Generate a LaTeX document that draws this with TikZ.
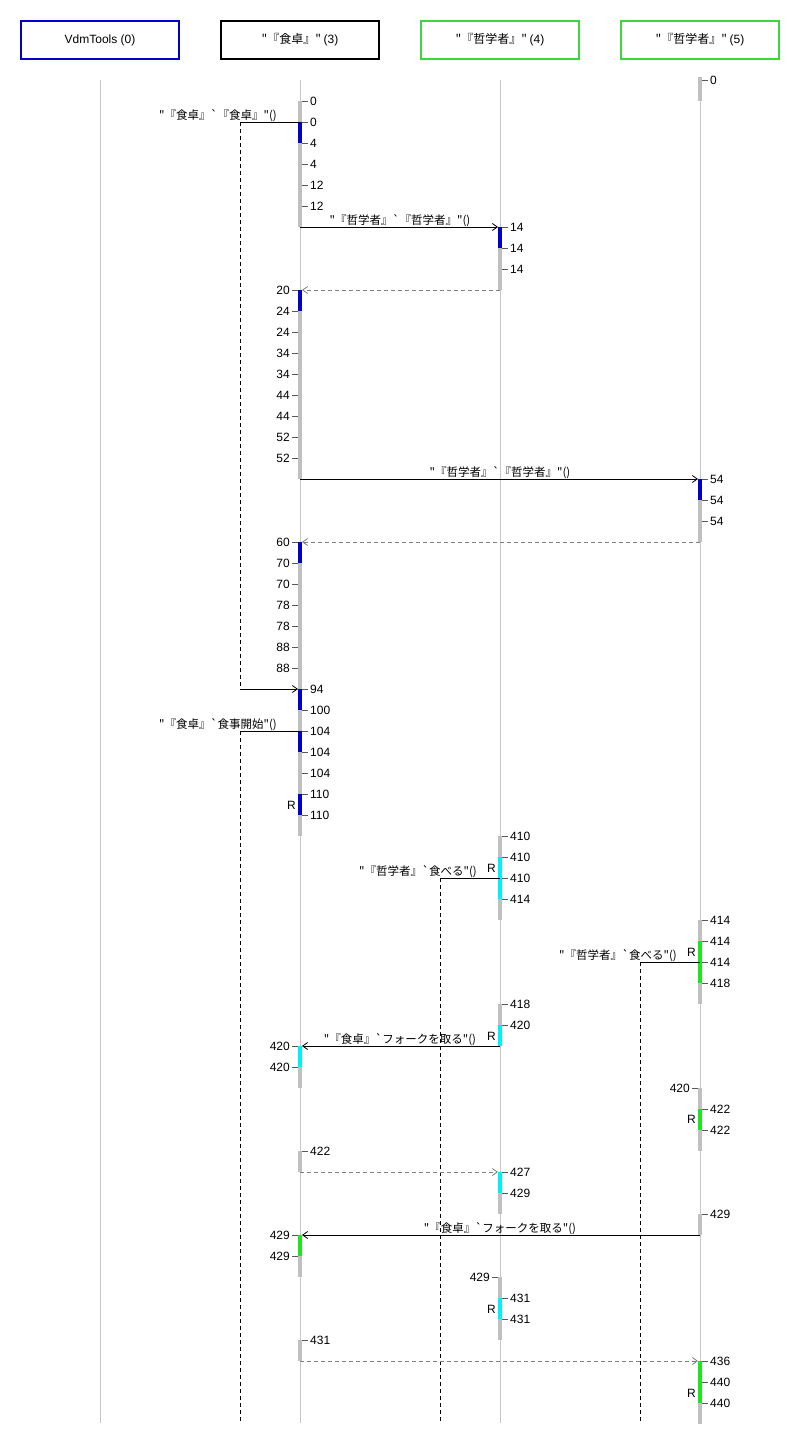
\documentclass[tikz,border=0pt]{standalone}
\usepackage{fontspec}
\setmainfont{Liberation Sans}
\newfontfamily\jp{Noto Sans CJK JP}[Ligatures=TeXOff]
\usetikzlibrary{arrows.meta}
\definecolor{vblue}{RGB}{0,0,200}
\definecolor{hgreen}{RGB}{60,215,60}
\definecolor{vgreen}{RGB}{30,230,30}
\definecolor{vcyan}{RGB}{0,240,250}
\definecolor{barg}{RGB}{192,192,192}
\definecolor{lifeg}{RGB}{200,200,200}
\definecolor{retg}{RGB}{128,128,128}
\tikzset{
  hdr/.style={draw,line width=2pt,minimum width=158pt,minimum height=38pt,inner sep=0pt,
    font=\fontsize{12}{14}\selectfont},
  lifeline/.style={draw=lifeg,line width=1pt},
  actbar/.style={line width=3.5pt},
  tk/.style={draw=black!65,line width=0.8pt},
  num/.style={inner sep=0pt,font=\fontsize{12}{14}\selectfont},
  rlab/.style={inner sep=0pt,anchor=east,font=\fontsize{12}{14}\selectfont},
  msglab/.style={inner sep=0pt,anchor=base,font=\jp\fontsize{11.5}{13}\selectfont},
  msg/.style={draw=black,line width=0.8pt},
  msgarrow/.style={msg,-{Straight Barb[length=5pt,width=7pt]}},
  retarrow/.style={draw=retg,line width=0.8pt,dash pattern=on 4pt off 3pt,
    -{Straight Barb[length=5pt,width=7pt]}},
  calldash/.style={draw=black,line width=0.8pt,dash pattern=on 4pt off 3pt}
}
\begin{document}
\begin{tikzpicture}[x=1pt,y=-1pt]
\useasboundingbox (0,0) rectangle (800,1443);
\fill[white] (0,0) rectangle (800,1443);

% headers
\node[hdr,draw=vblue] (h0) at (100,40) {VdmTools (0)};
\node[hdr,draw=black] (h3) at (300,40) {{\jp "『食卓』" }(3)};
\node[hdr,draw=hgreen] (h4) at (500,40) {{\jp "『哲学者』" }(4)};
\node[hdr,draw=hgreen] (h5) at (700,40) {{\jp "『哲学者』" }(5)};

% lifelines
\foreach \n/\x in {L0/100,L3/300,L4/500,L5/700}{
  \coordinate (\n top) at (\x,80);
  \coordinate (\n bot) at (\x,1423);
  \draw[lifeline] (\n top) -- (\n bot);
}

% gray activation bars
\foreach \x/\a/\b in {700/77/101, 700/479/542, 700/920/1004, 700/1088/1151, 700/1214/1235, 700/1361/1424,
  300/101/227, 300/290/479, 300/542/836, 300/1046/1088, 300/1151/1172, 300/1235/1277, 300/1340/1361,
  500/227/290, 500/836/920, 500/1004/1046, 500/1172/1214, 500/1277/1340}{
  \draw[actbar,draw=barg] (\x,\a) -- (\x,\b);
}
% coloured activation bars
\foreach \x/\a/\b/\c in {700/479/500/vblue, 700/941/983/vgreen, 700/1109/1130/vgreen, 700/1361/1403/vgreen,
  300/122/143/vblue, 300/290/311/vblue, 300/542/563/vblue, 300/689/710/vblue, 300/731/752/vblue, 300/794/815/vblue,
  300/1046/1067/vcyan, 300/1235/1256/vgreen,
  500/227/248/vblue, 500/857/899/vcyan, 500/1025/1046/vcyan, 500/1172/1193/vcyan, 500/1298/1319/vcyan}{
  \draw[actbar,draw=\c] (\x,\a) -- (\x,\b);
}

% ticks on the right
\foreach \x/\y/\t [count=\i] in {700/80/0,
  300/101/0, 300/122/0, 300/143/4, 300/164/4, 300/185/12, 300/206/12,
  500/227/14, 500/248/14, 500/269/14,
  700/479/54, 700/500/54, 700/521/54,
  300/689/94, 300/710/100, 300/731/104, 300/752/104, 300/773/104, 300/794/110, 300/815/110,
  500/836/410, 500/857/410, 500/878/410, 500/899/414,
  700/920/414, 700/941/414, 700/962/414, 700/983/418,
  500/1004/418, 500/1025/420,
  700/1109/422, 700/1130/422,
  300/1151/422,
  500/1172/427, 500/1193/429,
  700/1214/429,
  500/1298/431, 500/1319/431,
  300/1340/431,
  700/1361/436, 700/1382/440, 700/1403/440}{
  \draw[tk] (\x+2,\y) -- (\x+8,\y);
  \node[num,anchor=west] (tr\i) at (\x+10,\y) {\t};
}
% ticks on the left
\foreach \x/\y/\t [count=\i] in {
  300/290/20, 300/311/24, 300/332/24, 300/353/34, 300/374/34, 300/395/44, 300/416/44, 300/437/52, 300/458/52,
  300/542/60, 300/563/70, 300/584/70, 300/605/78, 300/626/78, 300/647/88, 300/668/88,
  300/1046/420, 300/1067/420,
  700/1088/420,
  300/1235/429, 300/1256/429,
  500/1277/429}{
  \draw[tk] (\x-2,\y) -- (\x-8,\y);
  \node[num,anchor=east] (tl\i) at (\x-10,\y) {\t};
}

% R labels
\foreach \x/\y [count=\i] in {300/805, 500/868, 700/952, 500/1036, 700/1119, 500/1309, 700/1393}{
  \node[rlab] (R\i) at (\x-4,\y) {R};
}

% message end points
\coordinate (m1a) at (240,122); \coordinate (m1b) at (300,122); \coordinate (m1r) at (240,689); \coordinate (m1t) at (298,689);
\coordinate (m2a) at (300,227); \coordinate (m2b) at (498,227);
\coordinate (m3a) at (500,290); \coordinate (m3b) at (302,290);
\coordinate (m4a) at (300,479); \coordinate (m4b) at (698,479);
\coordinate (m5a) at (700,542); \coordinate (m5b) at (302,542);
\coordinate (m6a) at (240,731); \coordinate (m6b) at (300,731); \coordinate (m6e) at (240,1423);
\coordinate (m7a) at (440,878); \coordinate (m7b) at (500,878); \coordinate (m7e) at (440,1423);
\coordinate (m8a) at (640,962); \coordinate (m8b) at (700,962); \coordinate (m8e) at (640,1423);
\coordinate (m9a) at (500,1046); \coordinate (m9b) at (302,1046);
\coordinate (m10a) at (300,1172); \coordinate (m10b) at (498,1172);
\coordinate (m11a) at (700,1235); \coordinate (m11b) at (302,1235);
\coordinate (m12a) at (300,1361); \coordinate (m12b) at (698,1361);

% messages
\draw[msg] (m1a) -- (m1b);
\draw[calldash] (m1a) -- (m1r);
\draw[msgarrow] (m1r) -- (m1t);
\node[msglab] (l1) at (218,119) {"『食卓』`『食卓』"()};

\draw[msgarrow] (m2a) -- (m2b);
\node[msglab] (l2) at (400,224) {"『哲学者』`『哲学者』"()};
\draw[retarrow] (m3a) -- (m3b);

\draw[msgarrow] (m4a) -- (m4b);
\node[msglab] (l4) at (500,476) {"『哲学者』`『哲学者』"()};
\draw[retarrow] (m5a) -- (m5b);

\draw[msg] (m6a) -- (m6b);
\draw[calldash] (m6a) -- (m6e);
\node[msglab] (l6) at (218,728) {"『食卓』`食事開始"()};

\draw[msg] (m7a) -- (m7b);
\draw[calldash] (m7a) -- (m7e);
\node[msglab] (l7) at (418,875) {"『哲学者』`食べる"()};

\draw[msg] (m8a) -- (m8b);
\draw[calldash] (m8a) -- (m8e);
\node[msglab] (l8) at (618,959) {"『哲学者』`食べる"()};

\draw[msgarrow] (m9a) -- (m9b);
\node[msglab] (l9) at (400,1043) {"『食卓』`フォークを取る"()};

\draw[retarrow] (m10a) -- (m10b);

\draw[msgarrow] (m11a) -- (m11b);
\node[msglab] (l11) at (500,1232) {"『食卓』`フォークを取る"()};

\draw[retarrow] (m12a) -- (m12b);
\end{tikzpicture}
\end{document}
